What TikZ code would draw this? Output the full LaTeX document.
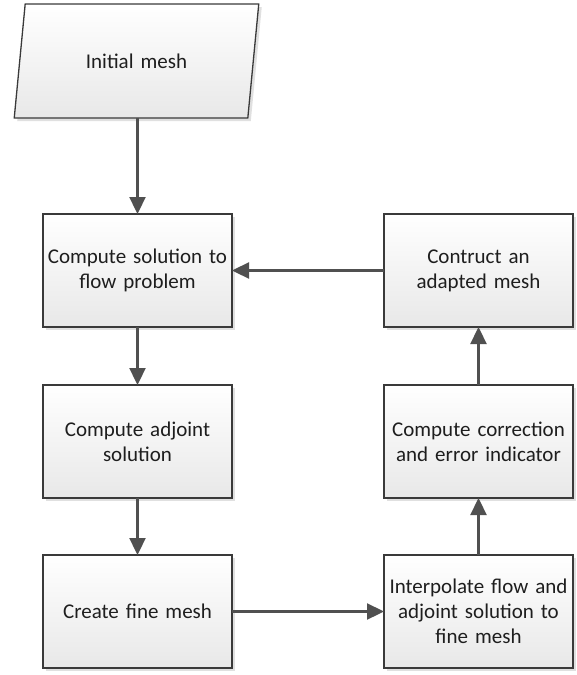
\documentclass[tikz,border=0pt]{standalone}
\usepackage{fontspec}
\setmainfont{Carlito}
\usetikzlibrary{positioning, shapes, shadows, arrows.meta}
\definecolor{edgegray}{HTML}{3A3A3A}
\definecolor{linegray}{HTML}{505050}
\definecolor{textgray}{HTML}{1E1E1E}

\begin{document}
\begin{tikzpicture}[x=1pt, y=1pt]
    \tikzstyle{process} = [draw=edgegray, line width=1.3pt, rectangle, top color=white, bottom color=black!9,
        minimum width=189pt, minimum height=113pt, text width=184pt, align=center, text=textgray,
        font=\fontsize{21}{25}\selectfont, inner sep=0pt, outer sep=0pt,
        drop shadow={shadow xshift=3pt, shadow yshift=-3pt, fill=black!12, opacity=1}];
    \tikzstyle{io} = [process, trapezium, trapezium left angle=63.4, trapezium right angle=116.6,
        trapezium stretches, minimum width=245pt, minimum height=114pt, text width=150pt];
    \tikzstyle{flow} = [draw=linegray, line width=2.3pt, -{Triangle[length=17pt, width=16pt]}];

    \useasboundingbox (0,0) rectangle (576,-675);

    \node[io] (init) at (136.5,-61) {Initial mesh};
    \node[process] (flowsol) at (137.5,-270.5) {Compute solution to\\flow problem};
    \node[process, below = 58pt of flowsol] (adjoint) {Compute adjoint\\solution};
    \node[process, below = 57pt of adjoint] (fine) {Create fine mesh};
    \node[process, right = 152pt of fine] (interp) {Interpolate flow and\\adjoint solution to\\fine mesh};
    \node[process, above = 57pt of interp] (correct) {Compute correction\\and error indicator};
    \node[process, above = 58pt of correct] (adapt) {Contruct an\\adapted mesh};

    \draw[flow] (init.south -| flowsol.north) -- (flowsol.north);
    \draw[flow] (flowsol.south) -- (adjoint.north);
    \draw[flow] (adjoint.south) -- (fine.north);
    \draw[flow] (fine.east) -- (interp.west);
    \draw[flow] (interp.north) -- (correct.south);
    \draw[flow] (correct.north) -- (adapt.south);
    \draw[flow] (adapt.west) -- (flowsol.east);
\end{tikzpicture}
\end{document}
